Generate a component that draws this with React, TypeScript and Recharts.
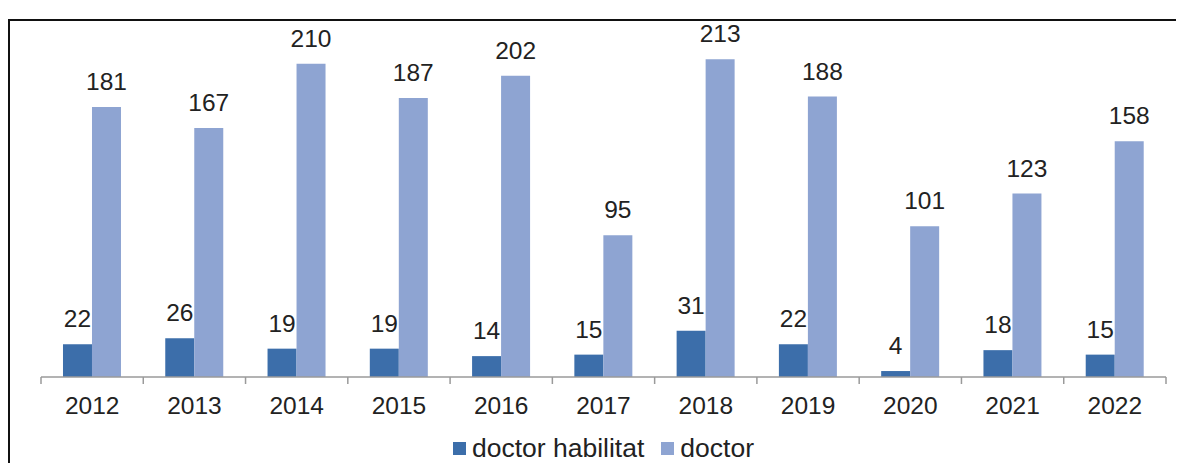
import { BarChart, Bar, XAxis, YAxis, Legend, LabelList } from "recharts";

// values
const YEARS = ["2012", "2013", "2014", "2015", "2016", "2017", "2018", "2019", "2020", "2021", "2022"];
const HABILITAT = [22, 26, 19, 19, 14, 15, 31, 22, 4, 18, 15];
const DOCTOR = [181, 167, 210, 187, 202, 95, 213, 188, 101, 123, 158];

const SERIES = [
  { key: "habilitat", name: "doctor habilitat", color: "#3c6eaa" },
  { key: "doctor", name: "doctor", color: "#8ea4d2" },
];

const data = YEARS.map((year, i) => ({ year, habilitat: HABILITAT[i], doctor: DOCTOR[i] }));

const FONT = "'Liberation Sans', Arial, sans-serif";
const TEXT = "#222";
const AXIS = "#9a9a9a";
const TICK_SIZE = 6;
const TICK_MARGIN = 14;

// Excel-style axis: label at centre, tick marks at category borders
function YearTick(props: any) {
  const { x, y, payload, index } = props;
  const half = payload.offset || 0;
  const axisY = y - TICK_SIZE - TICK_MARGIN;
  return (
    <g>
      <line x1={x - half} x2={x - half} y1={axisY} y2={axisY + 7} stroke={AXIS} strokeWidth={1.5} />
      {index === YEARS.length - 1 && (
        <line x1={x + half} x2={x + half} y1={axisY} y2={axisY + 7} stroke={AXIS} strokeWidth={1.5} />
      )}
      <text x={x} y={y} dy={17} textAnchor="middle" fill={TEXT} fontSize={24.5} fontFamily={FONT}>
        {payload.value}
      </text>
    </g>
  );
}

function LegendBox() {
  return (
    <div style={{ display: "flex", justifyContent: "center", alignItems: "center", fontFamily: FONT, fontSize: 26.5, color: TEXT, lineHeight: "30px" }}>
      {SERIES.map((s, i) => (
        <span key={s.key} style={{ display: "flex", alignItems: "center", marginLeft: i ? 17 : 0 }}>
          <span style={{ width: 13, height: 13, background: s.color, marginRight: 6, display: "inline-block" }} />
          {s.name}
        </span>
      ))}
    </div>
  );
}

export default function App() {
  return (
    <div style={{ position: "relative", width: 1176, height: 455 }}>
      <div style={{ position: "absolute", top: 11, left: 0, right: 0, height: 460, borderTop: "2px solid #111", borderLeft: "2px solid #111" }} />
      <div style={{ position: "absolute", top: 0, left: 0 }}>
        <BarChart
          width={1176}
          height={455}
          data={data}
          margin={{ top: 11, right: 18, left: 33, bottom: 0 }}
          barCategoryGap="21.5%"
          barGap={0}
        >
          <XAxis
            dataKey="year"
            axisLine={{ stroke: AXIS, strokeWidth: 1.5 }}
            tickLine={false}
            tickSize={TICK_SIZE}
            tickMargin={TICK_MARGIN}
            height={56}
            interval={0}
            tick={<YearTick />}
          />
          <YAxis hide domain={[0, 240]} />
          <Legend verticalAlign="bottom" content={<LegendBox />} />
          {SERIES.map((s) => (
            <Bar key={s.key} dataKey={s.key} name={s.name} fill={s.color} isAnimationActive={false}>
              <LabelList dataKey={s.key} position="top" offset={17} fill={TEXT} fontSize={24.5} fontFamily={FONT} />
            </Bar>
          ))}
        </BarChart>
      </div>
    </div>
  );
}
